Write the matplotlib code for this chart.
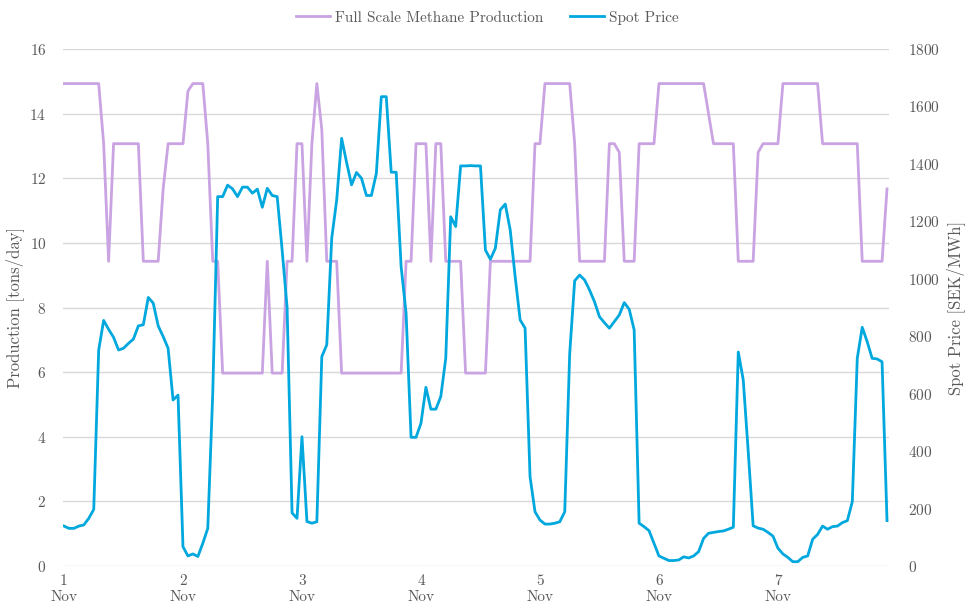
import numpy as np
import matplotlib
matplotlib.use('Agg')
import matplotlib.pyplot as plt

plt.rcParams['font.family'] = ['cmr10', 'DejaVu Serif']
plt.rcParams['axes.formatter.use_mathtext'] = True
plt.rcParams['mathtext.fontset'] = 'cm'

# hourly data, 1 Nov 00:00 onwards
methane = [
    14.93, 14.93, 14.93, 14.93, 14.93, 14.93, 14.93, 14.93, 13.07, 9.43,
    13.07, 13.07, 13.07, 13.07, 13.07, 13.07, 9.43, 9.43, 9.43, 9.43,
    11.67, 13.07, 13.07, 13.07, 13.07, 14.7, 14.93, 14.93, 14.93, 13.07,
    9.43, 9.43, 5.97, 5.97, 5.97, 5.97, 5.97, 5.97, 5.97, 5.97,
    5.97, 9.43, 5.97, 5.97, 5.97, 9.43, 9.43, 13.07, 13.07, 9.43,
    13.07, 14.93, 13.5, 9.43, 9.43, 9.43, 5.97, 5.97, 5.97, 5.97,
    5.97, 5.97, 5.97, 5.97, 5.97, 5.97, 5.97, 5.97, 5.97, 9.43,
    9.43, 13.07, 13.07, 13.07, 9.43, 13.07, 13.07, 9.43, 9.43, 9.43,
    9.43, 5.97, 5.97, 5.97, 5.97, 5.97, 9.43, 9.43, 9.43, 9.43,
    9.43, 9.43, 9.43, 9.43, 9.43, 13.07, 13.07, 14.93, 14.93, 14.93,
    14.93, 14.93, 14.93, 13.07, 9.43, 9.43, 9.43, 9.43, 9.43, 9.43,
    13.07, 13.07, 12.8, 9.43, 9.43, 9.43, 13.07, 13.07, 13.07, 13.07,
    14.93, 14.93, 14.93, 14.93, 14.93, 14.93, 14.93, 14.93, 14.93, 14.93,
    14.0, 13.07, 13.07, 13.07, 13.07, 13.07, 9.43, 9.43, 9.43, 9.43,
    12.8, 13.07, 13.07, 13.07, 13.07, 14.93, 14.93, 14.93, 14.93, 14.93,
    14.93, 14.93, 14.93, 13.07, 13.07, 13.07, 13.07, 13.07, 13.07, 13.07,
    13.07, 9.43, 9.43, 9.43, 9.43, 9.43, 11.67,
]

spot = [
    139, 131, 131, 139, 143, 166, 197, 752, 855, 824,
    796, 752, 758, 775, 790, 836, 840, 935, 915, 836,
    799, 758, 578, 595, 67, 35, 42, 33, 79, 131,
    600, 1286, 1286, 1326, 1313, 1286, 1319, 1319, 1298, 1312,
    1249, 1315, 1290, 1286, 1100, 900, 185, 166, 450, 155,
    149, 154, 729, 770, 1141, 1274, 1489, 1405, 1327, 1370,
    1350, 1290, 1290, 1367, 1634, 1634, 1371, 1371, 1042, 880,
    448, 448, 497, 622, 546, 546, 590, 723, 1216, 1182,
    1393, 1393, 1394, 1393, 1393, 1100, 1068, 1106, 1240, 1260,
    1170, 1007, 857, 828, 311, 189, 160, 146, 146, 149,
    154, 189, 740, 993, 1013, 996, 961, 920, 868, 847,
    828, 851, 874, 917, 894, 822, 149, 137, 123, 79,
    35, 27, 19, 19, 21, 32, 28, 35, 50, 96,
    114, 117, 120, 122, 128, 135, 745, 648, 400, 140,
    132, 128, 117, 104, 62, 42, 30, 15, 15, 30,
    35, 93, 110, 139, 128, 137, 139, 151, 158, 224,
    723, 831, 781, 723, 721, 711, 158,
]

day_labels = ['1\nNov', '2\nNov', '3\nNov', '4\nNov', '5\nNov', '6\nNov', '7\nNov']

hours = np.arange(len(spot))
gray = '#595959'

fig = plt.figure(figsize=(9.65, 6.08), dpi=100)
ax = fig.add_axes([63 / 965, 42 / 608, 826 / 965, 517 / 608])
ax2 = ax.twinx()

l1, = ax.plot(hours, methane, color='#c9a3e2', lw=2.0,
              label='Full Scale Methane Production')
l2, = ax2.plot(hours, spot, color='#00a8de', lw=2.0, label='Spot Price')

ax.set_ylim(0, 16)
ax.set_yticks(np.arange(0, 17, 2))
ax2.set_ylim(0, 1800)
ax2.set_yticks(np.arange(0, 1801, 200))
ax.set_xlim(-0.2, 166.4)
ax.set_xticks(np.arange(0, 145, 24))
ax.set_xticklabels(day_labels)

ax.grid(axis='y', color='#d9d9d9', lw=1.0)
ax.set_axisbelow(True)
for a in (ax, ax2):
    for s in a.spines.values():
        s.set_visible(False)
    a.tick_params(length=0, colors=gray, labelsize=11)
ax.tick_params(axis='y', pad=12)
ax2.tick_params(axis='y', pad=14)
ax.tick_params(axis='x', pad=6)
for t in ax.get_xticklabels():
    t.set_linespacing(1.2)

ax.set_ylabel('Production [tons/day]', color=gray, fontsize=12, labelpad=4)
ax2.set_ylabel('Spot Price [SEK/MWh]', color=gray, fontsize=12, labelpad=4)

leg = fig.legend(handles=[l1, l2], loc='upper center', bbox_to_anchor=(0.505, 1.005),
                 ncol=2, frameon=False, fontsize=11, handlelength=2.2,
                 columnspacing=1.8, handletextpad=0.3)
for t in leg.get_texts():
    t.set_color(gray)

fig.savefig('out.png', dpi=100)
